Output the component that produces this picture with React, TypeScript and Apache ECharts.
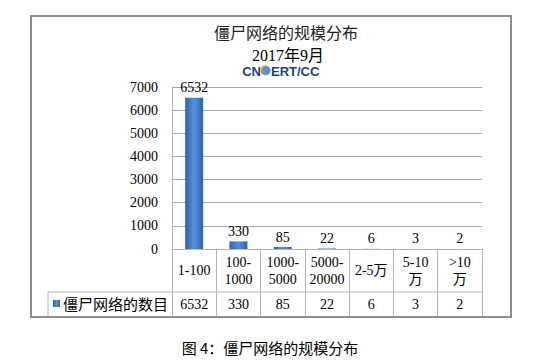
import React, { useEffect, useRef } from "react";
import * as echarts from "echarts";

const categories = ["1-100", "100-\n1000", "1000-\n5000", "5000-\n20000", "2-5万", "5-10\n万", ">10\n万"];
const values = [6532, 330, 85, 22, 6, 3, 2];
const seriesName = "僵尸网络的数目";
const yTicks = { min: 0, max: 7000, interval: 1000 };
const titleText = "僵尸网络的规模分布";
const subtitleText = "2017年9月";
const captionText = "图 4：僵尸网络的规模分布";

const SERIF = "'Liberation Serif', 'Noto Sans CJK SC', serif";
const CJK = "'Noto Sans CJK SC', sans-serif";
const LINE = "#b4b4b4";

export default function App() {
  const ref = useRef<HTMLDivElement>(null);
  useEffect(() => {
    if (!ref.current) return;
    const chart = echarts.init(ref.current, null, { renderer: "svg" });
    const barColor = new echarts.graphic.LinearGradient(0, 0, 1, 0, [
      { offset: 0, color: "#2e62ad" },
      { offset: 0.5, color: "#5590dc" },
      { offset: 1, color: "#2e62ad" },
    ]);
    chart.setOption({
      animation: false,
      backgroundColor: "#fff",
      grid: { left: 172, right: 62, top: 87, bottom: 115, containLabel: false },
      legend: {
        data: [seriesName],
        left: 53,
        top: 296,
        padding: 0,
        icon: "rect",
        itemWidth: 7,
        itemHeight: 7,
        itemGap: 4,
        textStyle: { fontFamily: CJK, fontSize: 15, color: "#000", padding: [0, 0, 0, -2] },
      },
      xAxis: [
        {
          type: "category",
          data: categories,
          position: "bottom",
          axisLine: { show: true, lineStyle: { color: LINE, width: 1 } },
          axisTick: { show: true, length: 68, alignWithLabel: false, lineStyle: { color: LINE, width: 1 } },
          axisLabel: {
            interval: 0,
            margin: 21.5,
            verticalAlign: "middle",
            fontFamily: SERIF,
            fontSize: 14,
            lineHeight: 17,
            color: "#000",
          },
          splitLine: { show: false },
        },
        {
          type: "category",
          data: values.map((v) => String(v)),
          position: "bottom",
          offset: 43,
          axisLine: { show: false },
          axisTick: { show: false },
          axisLabel: {
            interval: 0,
            margin: 12.5,
            verticalAlign: "middle",
            fontFamily: SERIF,
            fontSize: 14,
            color: "#000",
          },
        },
      ],
      yAxis: {
        type: "value",
        min: yTicks.min,
        max: yTicks.max,
        interval: yTicks.interval,
        axisLine: { show: true, lineStyle: { color: LINE, width: 1 } },
        axisTick: { show: false },
        axisLabel: {
          margin: 14,
          fontFamily: SERIF,
          fontSize: 14,
          color: "#000",
          formatter: (v: number) => String(v),
        },
        splitLine: { show: true, lineStyle: { color: "#a8a8a8", width: 1 } },
      },
      series: [
        {
          name: seriesName,
          type: "bar",
          data: values,
          barWidth: 18,
          itemStyle: { color: barColor },
          label: {
            show: true,
            position: "top",
            distance: 3,
            fontFamily: SERIF,
            fontSize: 14,
            color: "#000",
          },
        },
      ],
      graphic: [
        {
          type: "rect",
          shape: { x: 31, y: 16, width: 480, height: 301 },
          style: { fill: "none", stroke: "#8c8c8c", lineWidth: 2 },
          silent: true,
          z: 10,
        },
        {
          type: "line",
          shape: { x1: 48, y1: 292, x2: 482, y2: 292 },
          style: { stroke: LINE, lineWidth: 1 },
        },
        {
          type: "line",
          shape: { x1: 48, y1: 292, x2: 48, y2: 317 },
          style: { stroke: LINE, lineWidth: 1 },
        },
        {
          type: "text",
          x: 286,
          y: 32,
          style: {
            text: titleText,
            fontFamily: CJK,
            fontSize: 16,
            fill: "#222",
            textAlign: "center",
            textVerticalAlign: "middle",
          },
        },
        {
          type: "text",
          x: 288,
          y: 55,
          style: {
            text: subtitleText,
            fontFamily: SERIF,
            fontSize: 16,
            fill: "#000",
            textAlign: "center",
            textVerticalAlign: "middle",
          },
        },
        {
          type: "text",
          x: 261,
          y: 71,
          style: {
            text: "CN",
            fontFamily: "'Liberation Sans', Arial, sans-serif",
            fontWeight: "bold",
            fontSize: 13,
            fill: "#1f3b8c",
            textAlign: "right",
            textVerticalAlign: "middle",
          },
        },
        {
          type: "circle",
          shape: { cx: 265.5, cy: 70.5, r: 5 },
          style: { fill: "#f08a1e" },
        },
        {
          type: "circle",
          shape: { cx: 266.5, cy: 70.5, r: 4 },
          style: { fill: "#3d9ee2" },
        },
        {
          type: "text",
          x: 271,
          y: 71,
          style: {
            text: "ERT/CC",
            fontFamily: "'Liberation Sans', Arial, sans-serif",
            fontWeight: "bold",
            fontSize: 13,
            fill: "#1f3b8c",
            textAlign: "left",
            textVerticalAlign: "middle",
          },
        },
        {
          type: "text",
          x: 270,
          y: 347,
          style: {
            text: captionText,
            fontFamily: CJK,
            fontSize: 15,
            fill: "#000",
            textAlign: "center",
            textVerticalAlign: "middle",
          },
        },
      ],
    });
    return () => chart.dispose();
  }, []);
  return (
    <div
      ref={ref}
      style={{ position: "fixed", left: 0, top: 0, width: 544, height: 364, background: "#fff" }}
    />
  );
}
